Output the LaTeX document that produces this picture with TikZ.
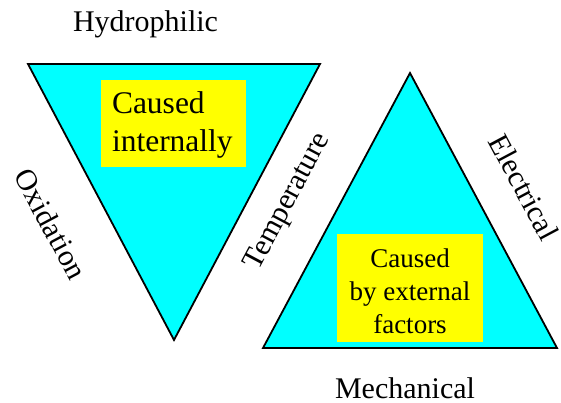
\documentclass[tikz,border=0pt]{standalone}
\usepackage{fontspec}
\setmainfont{Liberation Serif}
\definecolor{tri}{HTML}{00FFFF}
\definecolor{lbl}{HTML}{FFFF00}
\begin{document}
\begin{tikzpicture}[x=1pt,y=-1pt,
  trishape/.style={fill=tri,draw=black,line width=1.8pt,line join=miter},
  box/.style={fill=lbl,inner sep=0pt,anchor=center},
  side/.style={font=\fontsize{30}{36}\selectfont,inner sep=0pt}]
\useasboundingbox (0,0) rectangle (561,403);
% left inverted triangle
\coordinate (L1) at (28,64);
\coordinate (L2) at (320,64);
\coordinate (L3) at (174,340);
\draw[trishape] (L1) -- (L2) -- (L3) -- cycle;
% right triangle
\coordinate (R1) at (410,73);
\coordinate (R2) at (263,348);
\coordinate (R3) at (557,348);
\draw[trishape] (R1) -- (R2) -- (R3) -- cycle;
% boxes
\node[box,minimum width=145pt,minimum height=87pt] (b1) at (173.5,123.5) {};
\node[inner sep=0pt,text width=123pt,align=left,font=\fontsize{31.5}{38}\selectfont] (t1) at (173.5,125) {Caused\\internally};
\node[box,minimum width=146pt,minimum height=108pt] (b2) at (410,288) {};
\node[inner sep=0pt,align=center,font=\fontsize{27}{33}\selectfont] (t2) at (410,291) {Caused\\by external\\factors};
% labels
\node[side] (hyd) at (145.5,24) {Hydrophilic};
\node[side] (mec) at (405,388) {Mechanical};
\node[side,rotate=-62] (oxi) at (51,224) {Oxidation};
\node[side,rotate=62] (tem) at (288,202) {Temperature};
\node[side,rotate=-62] (ele) at (524,187) {Electrical};
\end{tikzpicture}
\end{document}
